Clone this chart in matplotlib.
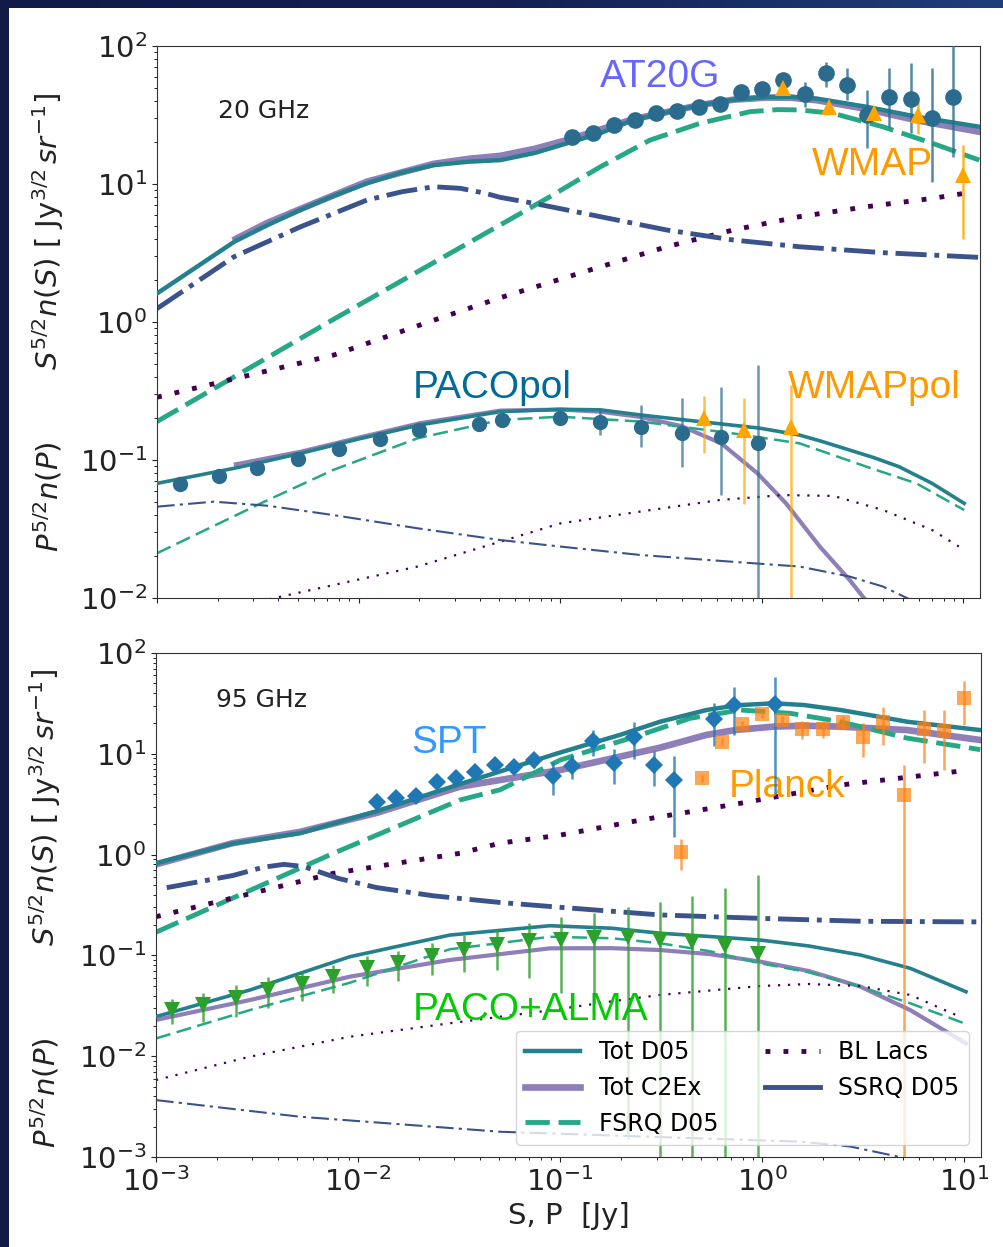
import numpy as np
import matplotlib.pyplot as plt
from matplotlib.patches import Rectangle
from matplotlib.lines import Line2D

# ---------- 20 GHz, total intensity models: S^{5/2} n(S)
s20_tot = [1e-3, 2.42e-3, 3.5e-3, 5.16e-3, 7.5e-3, 0.011, 0.016, 0.0236, 0.035, 0.0505, 0.075, 0.108,
           0.16, 0.231, 0.35, 0.493, 0.721, 1.05, 1.4, 1.87, 3.3, 5.83, 12.0]
n20_tot = [1.61, 3.82, 5.0, 6.5, 8.2, 10.1, 12.0, 13.7, 14.5, 14.9, 16.8, 19.7,
           23.5, 29.1, 33.5, 37.3, 40.8, 42.6, 42.8, 41.6, 36.3, 30.8, 26.0]
s20_c2 = [2.46e-3, 3.5e-3, 5.16e-3, 0.011, 0.0236, 0.035, 0.0505, 0.075, 0.108, 0.231, 0.493, 0.721,
          1.05, 1.4, 1.87, 3.3, 5.83, 12.0]
n20_c2 = [4.0, 5.2, 6.6, 10.4, 14.0, 15.2, 16.0, 18.0, 20.8, 29.5, 37.3, 40.8,
          42.3, 42.2, 40.5, 35.0, 29.0, 23.9]
s20_fsrq = [1e-3, 7.55e-3, 0.0486, 0.0891, 0.158, 0.279, 0.493, 0.873, 1.2, 1.54, 2.26, 3.98, 7.04, 12.0]
n20_fsrq = [0.19, 1.05, 4.9, 8.1, 13.3, 20.8, 27.5, 33.4, 34.6, 34.4, 32.5, 26.0, 19.7, 14.9]
s20_bl = [1e-3, 7.55e-3, 0.0236, 0.0505, 0.158, 0.338, 0.721, 1.54, 3.3, 7.04, 10.2]
n20_bl = [0.285, 0.577, 1.03, 1.5, 2.51, 3.51, 4.64, 5.8, 6.84, 7.87, 8.57]
s20_ss = [1e-3, 2.41e-3, 5.16e-3, 0.011, 0.0165, 0.0236, 0.032, 0.042, 0.0505, 0.0741, 0.158, 0.338,
          0.721, 1.54, 3.98, 12.0]
n20_ss = [1.25, 2.97, 4.9, 7.65, 8.8, 9.55, 9.3, 8.6, 8.0, 7.24, 5.8, 4.64,
          3.93, 3.51, 3.18, 2.94]

# ---------- 20 GHz, polarised models: P^{5/2} n(P)
p20_tot = [1e-3, 2.5e-3, 5.2e-3, 0.01, 0.0203, 0.0505, 0.1, 0.158, 0.25, 0.49, 0.98, 1.53, 2.0,
           2.73, 3.6, 4.8, 7.0, 10.1]
q20_tot = [0.0677, 0.088, 0.112, 0.142, 0.18, 0.224, 0.233, 0.231, 0.212, 0.19, 0.17, 0.152, 0.136,
           0.118, 0.104, 0.0894, 0.0677, 0.0485]
p20_c2 = [2.46e-3, 5.2e-3, 0.01, 0.0203, 0.0505, 0.1, 0.158, 0.25, 0.4, 0.63, 0.953, 1.32, 1.94, 2.73, 3.4]
q20_c2 = [0.093, 0.115, 0.145, 0.185, 0.228, 0.232, 0.224, 0.205, 0.176, 0.132, 0.08, 0.0485, 0.0236,
          0.0135, 0.009]
p20_fsrq = [1e-3, 3.27e-3, 7.5e-3, 0.0196, 0.0505, 0.1, 0.25, 0.718, 1.54, 3.31, 5.85, 10.1]
q20_fsrq = [0.0211, 0.0485, 0.0848, 0.1436, 0.195, 0.206, 0.19, 0.156, 0.132, 0.0894, 0.0677, 0.0434]
p20_bl = [3.6e-3, 0.0196, 0.0505, 0.1, 0.25, 0.62, 1.27, 2.27, 4.0, 7.0, 9.5]
q20_bl = [0.0098, 0.0169, 0.0256, 0.0347, 0.0423, 0.0513, 0.0557, 0.0549, 0.0434, 0.0311, 0.0236]
p20_ss = [1e-3, 1.91e-3, 3.55e-3, 7.5e-3, 0.0196, 0.0505, 0.1, 0.25, 0.718, 1.54, 2.73, 4.0, 5.4]
q20_ss = [0.0459, 0.0499, 0.0466, 0.0399, 0.032, 0.0263, 0.0236, 0.0205, 0.0183, 0.0169, 0.0143, 0.0121, 0.0098]

# ---------- 95 GHz, total intensity models
s95_tot = [1e-3, 2.4e-3, 5.16e-3, 0.0124, 0.0319, 0.1, 0.2, 0.312, 0.53, 0.75, 1.14, 1.6, 2.44, 3.5,
           5.22, 12.0]
n95_tot = [0.82, 1.29, 1.63, 2.7, 5.0, 10.3, 15.5, 20.8, 27.2, 30.3, 31.7, 30.5, 27.2, 24.0,
           20.8, 17.2]
s95_c2 = [1e-3, 2.4e-3, 5.16e-3, 0.0124, 0.0319, 0.1, 0.312, 0.53, 0.75, 1.14, 1.6, 2.44, 5.22, 12.0]
n95_c2 = [0.8, 1.3, 1.68, 2.6, 4.72, 6.9, 11.5, 15.4, 17.3, 18.6, 19.0, 18.6, 17.2, 13.7]
s95_fsrq = [1e-3, 7.55e-3, 0.0319, 0.0505, 0.1, 0.25, 0.44, 0.78, 1.38, 2.44, 5.22, 12.0]
n95_fsrq = [0.17, 1.03, 3.48, 4.4, 8.67, 15.4, 22.5, 27.2, 25.2, 20.8, 14.3, 11.0]
s95_bl = [1e-3, 7.55e-3, 0.0319, 0.0505, 0.1, 0.25, 0.78, 2.44, 10.6]
n95_bl = [0.242, 0.652, 1.03, 1.3, 1.56, 2.2, 3.23, 4.9, 6.9]
s95_ss = [1.13e-3, 2.4e-3, 3.4e-3, 4.3e-3, 5.4e-3, 8e-3, 0.0124, 0.0236, 0.0505, 0.1, 0.312, 0.98, 3.1, 12.0]
n95_ss = [0.47, 0.62, 0.75, 0.8, 0.76, 0.58, 0.47, 0.39, 0.335, 0.30, 0.252, 0.233, 0.218, 0.215]

# ---------- 95 GHz, polarised models
p95_tot = [1e-3, 2.92e-3, 9.1e-3, 0.0284, 0.089, 0.18, 0.312, 0.55, 0.98, 1.7, 3.06, 5.4, 10.2]
q95_tot = [0.0247, 0.0454, 0.097, 0.159, 0.197, 0.186, 0.166, 0.154, 0.142, 0.124, 0.101, 0.0745, 0.0436]
p95_c2 = [1e-3, 2.92e-3, 9.1e-3, 0.0284, 0.089, 0.18, 0.312, 0.55, 0.98, 1.7, 3.06, 5.4, 10.2]
q95_c2 = [0.0229, 0.0361, 0.0615, 0.09, 0.1175, 0.118, 0.113, 0.103, 0.0867, 0.07, 0.049, 0.0287, 0.0134]
p95_fsrq = [1e-3, 2.92e-3, 9.1e-3, 0.0284, 0.089, 0.18, 0.312, 0.55, 0.98, 1.7, 3.06, 5.4, 10.0]
q95_fsrq = [0.015, 0.0287, 0.0535, 0.115, 0.153, 0.148, 0.132, 0.11, 0.0834, 0.068, 0.049, 0.0335, 0.0212]
p95_bl = [1e-3, 2.92e-3, 9.1e-3, 0.0284, 0.089, 0.18, 0.312, 0.98, 1.7, 3.06, 5.4, 9.5]
q95_bl = [0.0058, 0.0099, 0.0156, 0.0212, 0.0285, 0.035, 0.0405, 0.0497, 0.052, 0.0497, 0.0405, 0.0247]
p95_ss = [1e-3, 5.16e-3, 0.0505, 0.158, 0.493, 1.54, 2.73, 4.8, 5.5]
q95_ss = [0.00367, 0.00251, 0.00178, 0.00165, 0.00153, 0.00142, 0.00127, 0.001, 0.00095]

# ---------- measured counts
at20g_s = [0.114, 0.145, 0.185, 0.236, 0.299, 0.381, 0.488, 0.619, 0.79, 1.0,
           1.28, 1.63, 2.09, 2.65, 3.34, 4.3, 5.5, 7.0, 8.9]
at20g_n = [22.0, 23.3, 26.8, 29.1, 32.5, 33.8, 36.3, 38.0, 46.7, 48.5,
           56.7, 44.7, 63.4, 52.2, 31.6, 43.0, 41.1, 29.9, 43.0]
at20g_lo = [1, 1, 1, 1, 1.2, 1.3, 1.5, 1.7, 2, 2.5, 4, 8.4, 12.7, 11.6, 13.3, 17, 17.7, 19.6, 27.3]
at20g_hi = [1, 1, 1, 1, 1.2, 1.3, 1.5, 1.7, 2, 2.5, 4, 10.3, 13.5, 17, 16.4, 26, 34, 39, 70]

wmap_s = [1.28, 2.15, 3.59, 5.98, 10.0]
wmap_n = [49.3, 36.3, 32.5, 31.6, 11.6]
wmap_err = [3, 3, 4, 8.5, 7.6]

pacopol_p = [0.0013, 0.00202, 0.00315, 0.00501, 0.00797, 0.0127, 0.02, 0.0397, 0.0514,
             0.1, 0.158, 0.252, 0.4, 0.63, 0.953]
pacopol_n = [0.0667, 0.0766, 0.0871, 0.101, 0.1197, 0.142, 0.165, 0.182, 0.195,
             0.2005, 0.19, 0.174, 0.156, 0.146, 0.1336]
pacopol_lo = [0.003, 0.003, 0.003, 0.004, 0.004, 0.005, 0.006, 0.008, 0.01,
              0.015, 0.038, 0.049, 0.067, 0.09, 0.1326]
pacopol_hi = [0.003, 0.003, 0.003, 0.004, 0.004, 0.005, 0.006, 0.008, 0.01,
              0.015, 0.04, 0.076, 0.124, 0.194, 0.353]

wmappol_p = [0.518, 0.817, 1.39]
wmappol_n = [0.2005, 0.165, 0.174]
wmappol_lo = [0.088, 0.117, 0.1735]
wmappol_hi = [0.088, 0.115, 0.175]

spt_s = [0.0124, 0.0154, 0.0194, 0.0245, 0.0306, 0.0379, 0.0477, 0.0594, 0.0746, 0.092,
         0.114, 0.145, 0.185, 0.233, 0.29, 0.364, 0.578, 0.726, 1.16]
spt_n = [3.35, 3.67, 3.81, 5.28, 5.71, 6.64, 7.74, 7.35, 8.67, 6.06,
         7.62, 13.5, 8.05, 14.8, 7.74, 5.5, 22.0, 30.5, 31.0]
spt_err = [0.3, 0.3, 0.35, 0.4, 0.5, 0.6, 0.8, 1.0, 1.5, 2.2,
           2.0, 3.9, 3.0, 6.0, 3.0, 4.0, 10.0, 15.0, 27.0]

planck_s = [0.398, 0.501, 0.631, 0.794, 1.0, 1.26, 1.58, 2.0, 2.51, 3.16, 3.98, 5.01, 6.31, 7.94, 10.0]
planck_n = [1.07, 5.71, 13.2, 19.6, 24.8, 21.6, 17.5, 17.7, 20.8, 14.8, 20.8, 3.9, 17.6, 16.9, 36.1]
planck_lo = [0.37, 0.5, 1.0, 1.5, 2.0, 2.0, 3.5, 3.5, 3.0, 5.5, 8.5, 3.95, 9.5, 10.0, 17.0]
planck_hi = [0.37, 0.5, 1.0, 1.5, 2.0, 2.0, 3.5, 3.5, 3.0, 5.5, 8.5, 3.85, 9.5, 10.0, 17.0]

alma_p = [0.001196, 0.001714, 0.00249, 0.0036, 0.00526, 0.00754, 0.01104, 0.01583, 0.02317, 0.0336,
          0.0486, 0.0702, 0.1012, 0.1479, 0.2163, 0.3126, 0.4487, 0.651, 0.952]
alma_n = [0.0287, 0.0322, 0.0375, 0.0454, 0.052, 0.0615, 0.0745, 0.0835, 0.0987, 0.1132,
          0.1268, 0.139, 0.142, 0.148, 0.151, 0.142, 0.1368, 0.124, 0.1032]
alma_lo = [0.008, 0.0105, 0.013, 0.015, 0.017, 0.019, 0.025, 0.028, 0.035, 0.045,
           0.055, 0.08, 0.1, 0.114, 0.1495, 0.1415, 0.1365, 0.1235, 0.1027]
alma_hi = [0.008, 0.0105, 0.013, 0.015, 0.017, 0.019, 0.025, 0.028, 0.035, 0.045,
           0.055, 0.07, 0.1, 0.114, 0.153, 0.2, 0.25, 0.34, 0.525]

model_labels = ["Tot D05", "Tot C2Ex", "FSRQ D05", "BL Lacs", "SSRQ D05"]

C_TOT, C_C2, C_FSRQ, C_BL, C_SS = "#23808c", "#8f7fb8", "#26a785", "#440154", "#3b528b"

thick = {
    "tot": dict(color=C_TOT, lw=3.2, ls="-", zorder=3),
    "c2": dict(color=C_C2, lw=4.8, ls="-", zorder=2),
    "fsrq": dict(color=C_FSRQ, lw=3.5, ls=(0, (5, 1.8)), zorder=2),
    "bl": dict(color=C_BL, lw=3.5, ls=(0, (1, 2.7)), zorder=2),
    "ss": dict(color=C_SS, lw=3.5, ls="-.", zorder=2),
}
thin = {
    "tot": dict(color=C_TOT, lw=2.6, ls="-", zorder=3),
    "c2": dict(color=C_C2, lw=3.0, ls="-", zorder=2),
    "fsrq": dict(color=C_FSRQ, lw=1.8, ls=(0, (6, 2.6)), zorder=2),
    "bl": dict(color=C_BL, lw=1.6, ls=(0, (1, 3.5)), zorder=2),
    "ss": dict(color=C_SS, lw=1.5, ls=(0, (8.5, 2.5, 1.5, 2.5)), zorder=2),
}


def draw_models(ax, curves, styles):
    lines = {}
    for key in ("c2", "tot", "fsrq", "bl", "ss"):
        s, n = curves[key]
        lines[key], = ax.plot(s, n, **styles[key])
    return lines


def points(ax, x, y, lo, hi, fmt, color, ms, alpha=1.0, bar_alpha=0.8, elw=1.8):
    eb = ax.errorbar(x, y, yerr=[lo, hi], fmt=fmt, color=color, ms=ms, mew=0,
                     elinewidth=elw, capsize=0, alpha=alpha, zorder=4)
    for lc in eb[2]:
        lc.set_alpha(bar_alpha)
    return eb


fig = plt.figure(figsize=(10.04, 12.47), dpi=100)
fig.patch.set_facecolor("#121a48")
fig.add_artist(Rectangle((9 / 1004, 0), 1 - 9 / 1004, 1 - 8 / 1247,
                         transform=fig.transFigure, facecolor="white",
                         edgecolor="none", zorder=-2))
band = fig.add_axes([0, 1 - 8 / 1247, 1, 8 / 1247], zorder=-1)
band.imshow(np.linspace(0, 1, 256)[None, :], aspect="auto",
            cmap=plt.matplotlib.colors.LinearSegmentedColormap.from_list(
                "band", ["#121a48", "#151f52", "#1e3e7b"]))
band.axis("off")

ax1 = fig.add_axes([157 / 1004, 1 - 598 / 1247, 823 / 1004, 552 / 1247])
ax2 = fig.add_axes([156 / 1004, 1 - 1157 / 1247, 825 / 1004, 504 / 1247], sharex=ax1)

for ax in (ax1, ax2):
    ax.set_xscale("log")
    ax.set_yscale("log")
    ax.tick_params(labelsize=21, colors="#222222")
    for sp in ax.spines.values():
        sp.set_color("#333333")
ax1.set_xlim(1e-3, 12.1)
ax1.set_ylim(1e-2, 1e2)
ax2.set_ylim(1e-3, 1e2)
ax1.tick_params(labelbottom=False)

# ---- 20 GHz panel
draw_models(ax1, {"tot": (s20_tot, n20_tot), "c2": (s20_c2, n20_c2), "fsrq": (s20_fsrq, n20_fsrq),
                  "bl": (s20_bl, n20_bl), "ss": (s20_ss, n20_ss)}, thick)
draw_models(ax1, {"tot": (p20_tot, q20_tot), "c2": (p20_c2, q20_c2), "fsrq": (p20_fsrq, q20_fsrq),
                  "bl": (p20_bl, q20_bl), "ss": (p20_ss, q20_ss)}, thin)
points(ax1, at20g_s, at20g_n, at20g_lo, at20g_hi, "o", "#2b6b8e", 12)
points(ax1, wmap_s, wmap_n, wmap_err, wmap_err, "^", "orange", 11)
points(ax1, pacopol_p, pacopol_n, pacopol_lo, pacopol_hi, "o", "#2b6b8e", 11, bar_alpha=0.7)
points(ax1, wmappol_p, wmappol_n, wmappol_lo, wmappol_hi, "^", "orange", 11, bar_alpha=0.7)

# ---- 95 GHz panel
leg = draw_models(ax2, {"tot": (s95_tot, n95_tot), "c2": (s95_c2, n95_c2), "fsrq": (s95_fsrq, n95_fsrq),
                        "bl": (s95_bl, n95_bl), "ss": (s95_ss, n95_ss)}, thick)
draw_models(ax2, {"tot": (p95_tot, q95_tot), "c2": (p95_c2, q95_c2), "fsrq": (p95_fsrq, q95_fsrq),
                  "bl": (p95_bl, q95_bl), "ss": (p95_ss, q95_ss)}, thin)
points(ax2, spt_s, spt_n, spt_err, spt_err, "D", "#1f77b4", 9)
points(ax2, planck_s, planck_n, planck_lo, planck_hi, "s", "#ff7f0e", 10, alpha=0.7, bar_alpha=0.7)
points(ax2, alma_p, alma_n, alma_lo, alma_hi, "v", "#2ca02c", 12, bar_alpha=0.8)

# legend swatch for SSRQ shows only the long dash of the pattern
ss_handle = Line2D([], [], color=C_SS, lw=3.5, ls="-")
ax2.legend([leg["tot"], leg["c2"], leg["fsrq"], leg["bl"], ss_handle], model_labels,
           loc="lower right", ncol=2, fontsize=17, handlelength=2.3)

# ---- panel labels and survey names
ax1.text(0.074, 0.87, "20 GHz", transform=ax1.transAxes, fontsize=18, color="#222222")
ax2.text(0.073, 0.893, "95 GHz", transform=ax2.transAxes, fontsize=18, color="#222222")

tag = dict(family="Liberation Sans", fontsize=28, va="baseline")
ax1.text(0.538, 0.9257, "AT20G", color="#6666ff", transform=ax1.transAxes, **tag)
ax1.text(0.7955, 0.7663, "WMAP", color="#ff9900", transform=ax1.transAxes, **tag)
ax1.text(0.311, 0.3623, "PACOpol", color="#006a9a", transform=ax1.transAxes, **tag)
ax1.text(0.7667, 0.3623, "WMAPpol", color="#ff9900", transform=ax1.transAxes, **tag)
ax2.text(0.31, 0.8022, "SPT", color="#3399ff", transform=ax2.transAxes, **tag)
ax2.text(0.6945, 0.7149, "Planck", color="#ff9900", transform=ax2.transAxes, **tag)
ax2.text(0.3115, 0.2718, "PACO+ALMA", color="#00cc00", transform=ax2.transAxes, **tag)

# ---- y labels (intensity and polarisation halves)
s_label = r"$S^{5/2}n(S)$ [ Jy$^{3/2}\,sr^{-1}$]"
p_label = r"$P^{5/2}n(P)$"
for ax, xs, ys, yp in ((ax1, -0.1324, 0.663, 0.183), (ax2, -0.1345, 0.6925, 0.127)):
    ax.text(xs, ys, s_label, rotation=90, transform=ax.transAxes, ha="center", va="center",
            fontsize=21, color="#222222")
    ax.text(xs, yp, p_label, rotation=90, transform=ax.transAxes, ha="center", va="center",
            fontsize=21, color="#222222")

ax2.set_xlabel("S, P  [Jy]", fontsize=21, color="#222222")

fig.savefig("out.png", dpi=100, facecolor=fig.get_facecolor())
